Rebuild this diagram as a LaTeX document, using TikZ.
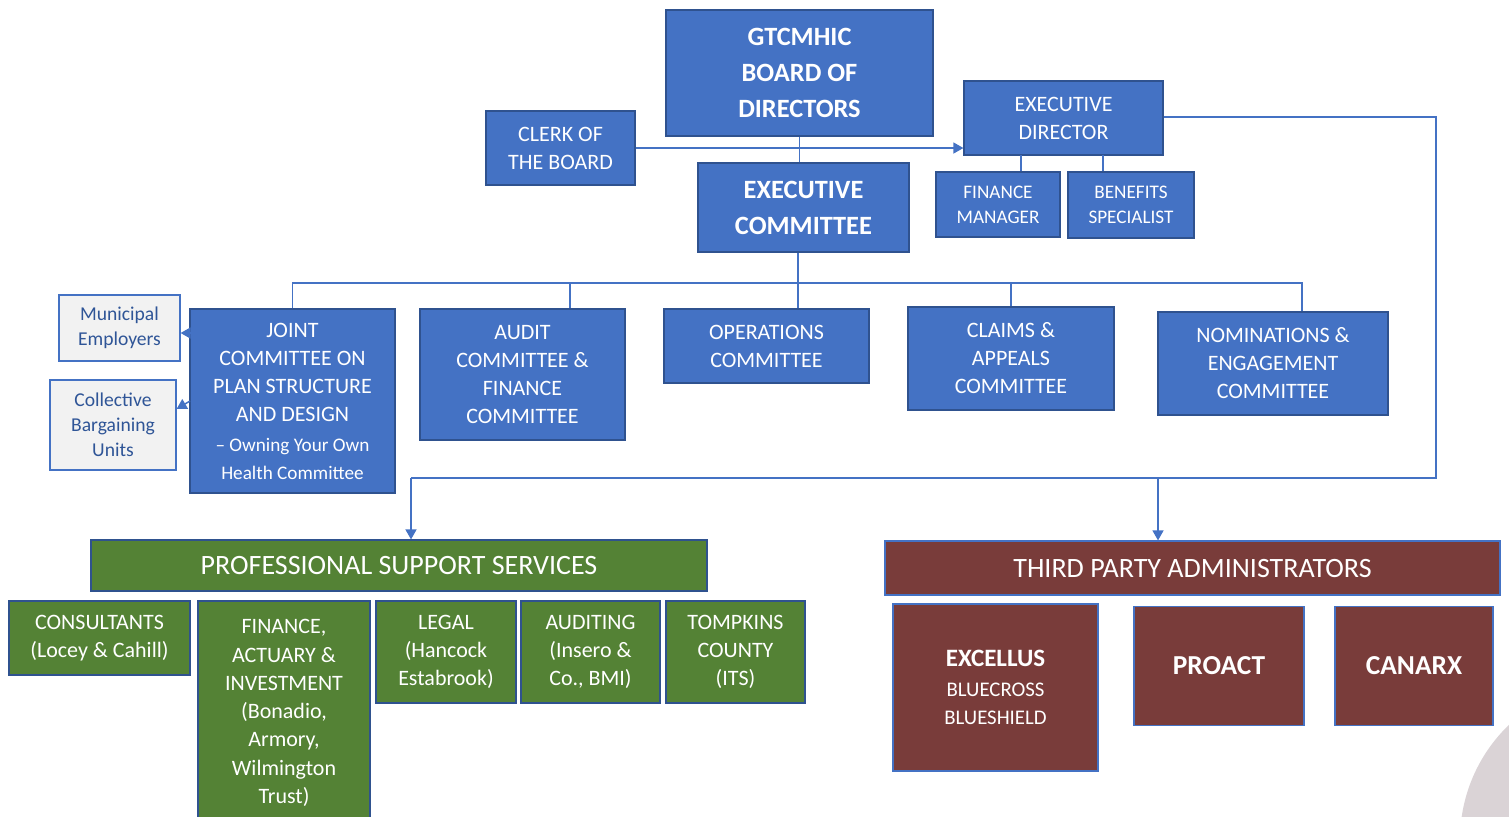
\documentclass[tikz,border=0pt]{standalone}
\usepackage{fontspec}
\setmainfont{Carlito}
\usetikzlibrary{arrows.meta}
\definecolor{bfill}{HTML}{4472C4}
\definecolor{bline}{HTML}{2F528F}
\definecolor{gfill}{HTML}{548235}
\definecolor{rfill}{HTML}{793C3A}
\definecolor{gtext}{HTML}{2F5597}
\definecolor{lgray}{HTML}{F2F2F2}
\definecolor{circ}{HTML}{DAD3D6}
\tikzset{
  box/.style={draw=bline, line width=0.6pt, fill=bfill, text=white, align=center, inner sep=0pt,
    font=\fontsize{11}{14}\selectfont},
  bigbox/.style={box, font=\fontsize{13.2}{18}\selectfont\bfseries},
  smallbox/.style={box, font=\fontsize{9.6}{12.5}\selectfont},
  graybox/.style={draw=bfill, line width=0.6pt, fill=lgray, text=gtext, align=center, inner sep=0pt,
    font=\fontsize{9.8}{12.5}\selectfont},
  greenbox/.style={box, fill=gfill},
  redbox/.style={box, fill=rfill, draw=bfill},
  conn/.style={draw=bfill, line width=0.75pt},
  arr/.style={conn, -{Triangle[length=5pt,width=5.5pt]}},
}
\begin{document}
\begin{tikzpicture}[x=0.5pt, y=-0.5pt]
\useasboundingbox (0,0) rectangle (1509,816);
\fill[circ] (1620,840) circle (160);

% top level
\node[bigbox, minimum width=133.5pt, minimum height=63pt] (board) at (799.5,73) {GTCMHIC\\BOARD OF\\DIRECTORS};
\node[box, minimum width=74.5pt, minimum height=37pt] (clerk) at (560.5,148) {CLERK OF\\THE BOARD};
\node[bigbox, minimum width=105.5pt, minimum height=44.5pt] (exec) at (803.5,207.5) {EXECUTIVE\\COMMITTEE};
\node[box, minimum width=99.5pt, minimum height=37pt] (execdir) at (1063.5,118) {EXECUTIVE\\DIRECTOR};
\node[smallbox, minimum width=62pt, minimum height=32.5pt] (finmgr) at (998,204.5) {FINANCE\\MANAGER};
\node[smallbox, minimum width=63pt, minimum height=33pt] (benef) at (1131,205) {BENEFITS\\SPECIALIST};

% committees
\node[graybox, minimum width=60.5pt, minimum height=33pt] (muni) at (119.5,328) {Municipal\\Employers};
\node[graybox, minimum width=63pt, minimum height=45pt] (coll) at (113,425) {Collective\\Bargaining\\Units};
\node[box, minimum width=102.5pt, minimum height=92pt] (joint) at (292.5,401)
  {JOINT\\COMMITTEE ON\\PLAN STRUCTURE\\AND DESIGN\\[1pt]{\fontsize{9.6}{12.5}\selectfont – Owning Your Own}\\{\fontsize{9.6}{12.5}\selectfont Health Committee}};
\node[box, minimum width=102.5pt, minimum height=65.5pt] (audit) at (522.5,374.5) {AUDIT\\COMMITTEE \&\\FINANCE\\COMMITTEE};
\node[box, minimum width=102.5pt, minimum height=37pt] (ops) at (766.5,346) {OPERATIONS\\COMMITTEE};
\node[box, minimum width=103pt, minimum height=51.5pt] (claims) at (1011,358.5) {CLAIMS \&\\APPEALS\\COMMITTEE};
\node[box, minimum width=115pt, minimum height=51.5pt] (nom) at (1273,363.5) {NOMINATIONS \&\\ENGAGEMENT\\COMMITTEE};

% professional support services
\node[greenbox, minimum width=308pt, minimum height=25.5pt, font=\fontsize{14}{17}\selectfont] (pss) at (399,565.5) {PROFESSIONAL SUPPORT SERVICES};
\node[greenbox, minimum width=90.5pt, minimum height=37pt] (cons) at (99.5,638) {CONSULTANTS\\(Locey \& Cahill)};
\node[greenbox, minimum width=86pt, minimum height=112pt, font=\fontsize{11}{14.15}\selectfont] (fin) at (284,713)
  {FINANCE,\\ACTUARY \&\\INVESTMENT\\(Bonadio,\\Armory,\\Wilmington\\Trust)};
\node[greenbox, minimum width=70pt, minimum height=51pt] (legal) at (446,652) {LEGAL\\(Hancock\\Estabrook)};
\node[greenbox, minimum width=69.5pt, minimum height=51pt] (auditing) at (590.5,652) {AUDITING\\(Insero \&\\Co., BMI)};
\node[greenbox, minimum width=69.5pt, minimum height=51pt] (tomp) at (735.5,652) {TOMPKINS\\COUNTY\\(ITS)};

% third party administrators
\node[redbox, minimum width=307.5pt, minimum height=27pt, font=\fontsize{14}{17}\selectfont] (tpa) at (1192.5,568) {THIRD PARTY ADMINISTRATORS};
\node[redbox, minimum width=102.5pt, minimum height=83.5pt, font=\fontsize{10.4}{14}\selectfont] (excellus) at (995.5,687.5)
  {{\fontsize{12.5}{15}\selectfont\bfseries EXCELLUS}\\[1pt]BLUECROSS\\BLUESHIELD};
\node[redbox, minimum width=85pt, minimum height=59.5pt, font=\fontsize{13.7}{17}\selectfont\bfseries] (proact) at (1219,666) {PROACT};
\node[redbox, minimum width=79pt, minimum height=59.5pt, font=\fontsize{13.7}{17}\selectfont\bfseries] (canarx) at (1414,666) {CANARX};

% connectors, top
\draw[conn] (board.south) -- (board.south |- exec.north);
\draw[arr] (clerk.east) -- (clerk.east -| execdir.west);
\coordinate (fmx) at (1021,155);
\coordinate (bsx) at (1103,155);
\draw[conn] (fmx) -- (fmx |- finmgr.north);
\draw[conn] (bsx) -- (bsx |- benef.north);

% committee bus
\coordinate (bus) at (798,283);
\coordinate (ta) at (570,283);
\coordinate (tc) at (1011,283);
\coordinate (tn) at (1302,283);
\draw[conn] (bus |- exec.south) -- (bus);
\draw[conn] (joint.north) -- (joint.north |- bus) -- (tn) -- (tn |- nom.north);
\draw[conn] (ta) -- (ta |- audit.north);
\draw[conn] (bus) -- (bus |- ops.north);
\draw[conn] (tc) -- (tc |- claims.north);

% side arrows of joint committee
\coordinate (ma) at (190,333);
\coordinate (ca) at (190,401);
\draw[arr] (ma) -- (ma -| muni.east);
\draw[arr] (ca) -- ([yshift=-4pt]ca -| coll.east);

% executive director to service providers
\coordinate (rtop) at (1436,117);
\coordinate (rbot) at (1436,478);
\coordinate (lbot) at (411,478);
\coordinate (mbot) at (1158,478);
\draw[conn] (execdir.east |- rtop) -- (rtop) -- (rbot) -- (lbot);
\draw[arr] (lbot) -- (lbot |- pss.north);
\draw[arr] (mbot) -- (mbot |- tpa.north);
\end{tikzpicture}
\end{document}
